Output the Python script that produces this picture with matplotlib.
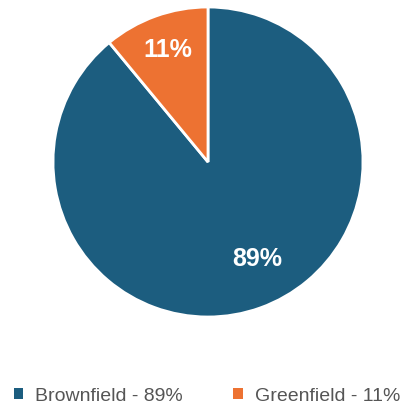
import matplotlib
matplotlib.use("Agg")
import matplotlib.pyplot as plt
from matplotlib.patches import Patch

categories = ["Brownfield", "Greenfield"]
values = [89, 11]
colors = ["#1c5d7f", "#ed7232"]
legend_labels = ["Brownfield - 89%", "Greenfield - 11%"]

W, H = 405, 410
cx, cy, r = 208, 163, 155

fig = plt.figure(figsize=(W/100, H/100), dpi=100)
ax = fig.add_axes([(cx - r)/W, 1 - (cy + r)/H, 2*r/W, 2*r/H])
wedges, texts, autotexts = ax.pie(
    values, colors=colors, startangle=90, counterclock=False,
    autopct=lambda p: f"{p:.0f}%", pctdistance=0.75,
    wedgeprops=dict(edgecolor="white", linewidth=2),
    textprops=dict(color="white", fontsize=18, fontweight="bold", family="Liberation Sans"),
)
autotexts[0].set_position((0.32, -0.62))
autotexts[1].set_position((-0.26, 0.73))
ax.set_xlim(-1, 1)
ax.set_ylim(-1, 1)
ax.set_aspect("auto")

handles = [Patch(facecolor=c, edgecolor="none") for c in colors]
fig.legend(handles, legend_labels, loc="center", bbox_to_anchor=(207/W, 1 - 397/H),
           ncol=2, frameon=False, handlelength=0.5, handleheight=0.5, handletextpad=0.6,
           columnspacing=2.6, borderpad=0, prop=dict(family="Liberation Sans", size=14),
           labelcolor="#555555")
fig.savefig("out.png", dpi=100)
